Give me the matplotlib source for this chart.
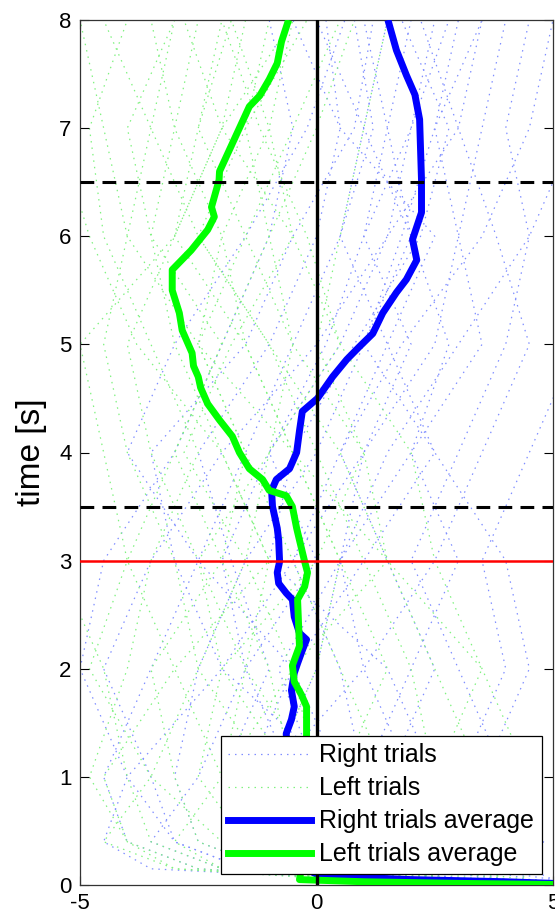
import numpy as np
import matplotlib
matplotlib.use("Agg")
import matplotlib.pyplot as plt
from matplotlib.lines import Line2D

plt.rcParams['font.family'] = ['Liberation Sans', 'DejaVu Sans']
plt.rcParams['axes.unicode_minus'] = False

# ---------------- data ----------------
trial_t = [0, 0.05, 0.15, 0.4, 1, 2, 3, 4, 5, 6, 7, 8]

right_trials = [
    [6, 3, 1.0, 0.5, -0.5, -1.5, -2.0, -1.0, 0.5, 1.5, 2.0, 2.5],
    [6, 4, 2.5, 1.5, 1.0, 0.5, -0.5, 1.0, 2.5, 3.0, 3.5, 4.0],
    [6, 2, -1.0, -2.5, -3.0, -2.5, -1.5, 0.0, 1.0, 2.0, 1.5, 1.0],
    [6, 5, 3.5, 3.0, 2.0, 1.0, 0.5, 1.5, 3.0, 4.5, 5.5, 6.0],
    [6, 1, -2.5, -4.0, -4.5, -3.5, -2.5, -1.5, -0.5, 0.5, 1.0, 1.5],
    [6, 3.5, 0.5, -0.5, -1.0, 0.0, 0.5, 2.0, 3.5, 3.0, 2.5, 3.0],
    [6, 4.5, 4.0, 3.5, 4.0, 3.0, 2.0, 3.0, 4.0, 4.5, 4.0, 4.5],
    [6, 2.5, 0.0, -1.5, -2.0, -1.0, -1.8, -2.5, -1.0, 0.0, 0.5, 0.2],
    [6, 3, 1.5, 0.5, 0.0, -0.8, 0.5, 1.0, 2.0, 1.0, 1.5, 2.0],
    [6, 1.5, -1.5, -3.0, -3.5, -4.5, -3.5, -2.0, 0.0, 1.5, 3.0, 3.5],
    [6, 4, 2.0, 2.5, 1.5, 2.5, 1.5, 0.5, 1.5, 2.5, 0.5, -0.5],
    [6, 2, 0.5, 1.0, 2.5, 1.5, -1.0, -0.5, 0.8, 2.2, 2.8, 1.8],
    [6, 5, 4.5, 4.8, 3.0, 4.0, 3.5, 4.5, 5.5, 6, 6, 6],
    [6, 3, -0.5, -1.0, 0.5, -2.0, -3.0, -3.5, -1.5, -0.5, 0.8, 1.2],
    [6, 1, -3.5, -4.5, -4.0, -2.0, -0.5, 0.5, 1.8, 3.5, 4.5, 5.0],
    [6, 3.5, 1.0, -0.5, -1.5, -0.5, 1.0, 2.5, 1.5, 0.5, 1.2, 0.8],
    [6, 2.5, -0.5, -2.0, -1.0, 1.0, 2.5, 3.5, 4.5, 3.8, 3.0, 2.2],
    [6, 4, 3.0, 2.0, 0.5, -0.5, -2.5, -4.0, -3.0, -1.5, -0.2, 0.6],
    [6, 1.5, -2.0, -3.5, -2.5, -1.5, 0.0, -1.0, 0.2, 1.0, 2.0, 2.8],
    [6, 3, 0.5, 0.0, 1.0, 2.0, 3.0, 2.0, 2.8, 2.0, 1.0, 0.0],
    [6, 4.5, 3.5, 2.5, 3.5, 4.5, 4.0, 2.5, 1.0, 1.8, 2.5, 3.5],
    [6, 2, -1.5, -3.0, -4.0, -5.0, -4.5, -3.0, -2.0, -1.0, -0.5, -1.0],
]

left_trials = [
    [6, 2, -0.5, -1.0, -2.0, -1.5, -1.0, -2.0, -3.0, -3.5, -3.0, -2.5],
    [6, 3, 1.0, 0.0, 0.5, 1.5, 0.5, -0.5, -1.5, -2.0, -1.0, -0.5],
    [6, 1, -2.0, -3.5, -4.0, -4.5, -5.5, -5.5, -6, -6, -6, -6],
    [6, 4, 2.5, 2.0, 1.5, 0.5, -0.5, -1.5, -2.5, -1.5, -0.5, 0.5],
    [6, 0.5, -3.0, -4.5, -3.5, -2.5, -3.0, -4.0, -4.5, -4.0, -3.5, -3.0],
    [6, 2.5, 0.0, -0.5, -0.5, -1.0, -2.0, -3.0, -2.0, -1.0, -1.5, -1.0],
    [6, 3.5, 3.0, 3.5, 2.5, 2.0, 1.0, 0.0, -1.0, -2.5, -3.5, -4.5],
    [6, 1.5, -1.5, -2.0, -1.0, 0.0, 0.5, -0.5, -1.5, -3.0, -2.0, -1.5],
    [6, 2, 0.5, 1.0, 0.0, -1.5, -2.5, -3.5, -4.0, -3.0, -2.0, -0.5],
    [6, 1, -2.5, -4.0, -4.8, -4.0, -3.5, -2.5, -3.5, -4.5, -4.8, -4.0],
    [6, 3, 1.5, 0.5, -1.0, -2.5, -1.5, -1.0, -0.5, -1.5, -2.5, -2.0],
    [6, 4.5, 4.0, 3.0, 3.5, 2.5, 1.5, 1.0, 0.0, 0.5, 1.0, 1.5],
    [6, 2, -1.0, -2.5, -3.0, -3.5, -2.0, -1.5, -2.5, -2.0, -3.0, -3.5],
    [6, 3, 0.0, -1.5, -2.5, -2.0, 0.0, 1.0, -0.5, -1.0, 0.0, 0.8],
    [6, 1.5, -3.0, -4.0, -4.5, -3.0, -1.0, -2.0, -3.8, -4.8, -5.5, -6.0],
    [6, 3.5, 2.0, 1.5, 0.0, -0.5, -1.5, -2.8, -1.8, -0.5, -1.0, -1.8],
    [6, 2.5, 0.5, -1.0, -2.0, -3.0, -4.0, -3.0, -2.0, -3.5, -4.0, -3.0],
    [6, 4, 3.5, 4.0, 4.5, 3.5, 2.5, 2.0, 0.5, -0.5, -2.0, -2.8],
    [6, 1, -2.0, -3.0, -2.0, -0.5, 1.5, 0.5, -1.0, -2.5, -1.5, -0.2],
    [6, 3, 1.0, 1.5, 2.5, 3.5, 1.5, -0.5, -2.5, -4.0, -4.5, -5.0],
    [6, 2, -0.5, -2.0, -3.5, -4.8, -4.0, -4.5, -5.0, -3.0, -2.5, -1.8],
    [6, 4.5, 2.5, 0.5, -0.5, -2.0, -2.5, -1.0, 0.5, -0.2, -1.2, -2.0],
]

right_avg_t = [0.00, 0.03, 0.05, 0.07, 0.10, 0.20, 0.5, 0.8, 1.1, 1.40, 1.53, 1.65,
               1.80, 1.96, 2.05, 2.17, 2.27, 2.33, 2.48, 2.64, 2.70, 2.79, 2.89, 2.99,
               3.19, 3.3, 3.5, 3.65, 3.75, 3.85, 4.0, 4.2, 4.38, 4.5, 4.7, 4.86, 4.98,
               5.1, 5.29, 5.48, 5.6, 5.78, 5.97, 6.22, 6.52, 6.8, 7.08, 7.31, 7.49,
               7.72, 8.0]
right_avg_x = [6.0, 4.0, 2.0, 0.9, 0.0, -0.45, -0.5, -0.55, -0.6, -0.64, -0.53, -0.47,
               -0.53, -0.47, -0.4, -0.3, -0.21, -0.36, -0.47, -0.51, -0.64, -0.8, -0.83,
               -0.78, -0.8, -0.83, -0.93, -0.95, -0.85, -0.57, -0.42, -0.36, -0.3, 0.02,
               0.34, 0.64, 0.91, 1.19, 1.4, 1.69, 1.9, 2.12, 2.03, 2.22, 2.22, 2.2, 2.18,
               2.08, 1.9, 1.69, 1.51]

left_avg_t = [0.0, 0.015, 0.03, 0.05, 0.2, 0.6, 1.0, 1.40, 1.65, 1.76, 1.88, 2.03,
              2.21, 2.42, 2.64, 2.76, 2.89, 2.99, 3.19, 3.3, 3.5, 3.6, 3.65, 3.75, 3.85,
              4.0, 4.15, 4.3, 4.45, 4.6, 4.7, 4.8, 4.92, 5.13, 5.29, 5.5, 5.69, 5.87,
              6.06, 6.18, 6.27, 6.52, 6.6, 6.8, 7.0, 7.2, 7.3, 7.45, 7.6, 7.8, 8.0]
left_avg_x = [6.0, 3.0, 1.0, -0.36, -0.3, -0.25, -0.22, -0.21, -0.21, -0.32, -0.47,
              -0.51, -0.36, -0.38, -0.4, -0.25, -0.19, -0.25, -0.36, -0.42, -0.51,
              -0.64, -1.0, -1.14, -1.42, -1.63, -1.78, -2.05, -2.3, -2.45, -2.5, -2.6,
              -2.63, -2.84, -2.9, -3.05, -3.05, -2.65, -2.3, -2.16, -2.22, -2.06, -2.05,
              -1.84, -1.63, -1.42, -1.2, -1.0, -0.83, -0.74, -0.59]

legend_labels = ["Right trials", "Left trials", "Right trials average", "Left trials average"]
window_lines = [3.5, 6.5]
cue_line = 3.0
xticks = [-5, 0, 5]
yticks = [0, 1, 2, 3, 4, 5, 6, 7, 8]

# ---------------- figure ----------------
W, H = 555, 917
dpi = 100
fig = plt.figure(figsize=(W / dpi, H / dpi), dpi=dpi)
ax = fig.add_axes([80 / W, 1 - 885 / H, 473 / W, 865 / H])

trial_blue = (0.5, 0.56, 1.0)
trial_green = (0.5, 0.95, 0.5)
dot_style = (0, (1.2, 4))

for tr in right_trials:
    ax.plot(tr, trial_t, color=trial_blue, lw=0.9, linestyle=dot_style, zorder=1)
for tr in left_trials:
    ax.plot(tr, trial_t, color=trial_green, lw=0.9, linestyle=dot_style, zorder=1)

ax.plot(right_avg_x, right_avg_t, color=(0, 0, 1), lw=5, zorder=3,
        solid_joinstyle='round', solid_capstyle='butt')
ax.plot(left_avg_x, left_avg_t, color=(0, 1, 0), lw=5, zorder=4,
        solid_joinstyle='round', solid_capstyle='butt')

ax.axvline(0, color='black', lw=2.4, zorder=5)
for y in window_lines:
    ax.axhline(y, color='black', lw=2.2, linestyle=(0, (4.5, 2.7)), zorder=5)
ax.axhline(cue_line, color='red', lw=1.8, zorder=5)

ax.set_xlim(-5, 5)
ax.set_ylim(0, 8)
ax.set_xticks(xticks)
ax.set_yticks(yticks)
ax.tick_params(direction='in', length=6.5, width=0.8, labelsize=16,
               top=True, right=True, pad=6, colors='black')
for s in ax.spines.values():
    s.set_linewidth(0.9)
    s.set_color('#333333')
ax.set_ylabel('time [s]', fontsize=24, labelpad=9)

handles = [
    Line2D([], [], color=trial_blue, lw=0.9, linestyle=dot_style),
    Line2D([], [], color=trial_green, lw=0.9, linestyle=dot_style),
    Line2D([], [], color=(0, 0, 1), lw=5),
    Line2D([], [], color=(0, 1, 0), lw=5),
]
leg = ax.legend(handles, legend_labels, loc='lower right', fontsize=18,
                frameon=True, fancybox=False, framealpha=1, edgecolor='black',
                handlelength=3.3, handletextpad=0.35, labelspacing=0.36,
                borderpad=0.3, borderaxespad=0.45)
leg.get_frame().set_linewidth(0.9)
leg.set_zorder(10)

fig.savefig('out.png', dpi=dpi)
